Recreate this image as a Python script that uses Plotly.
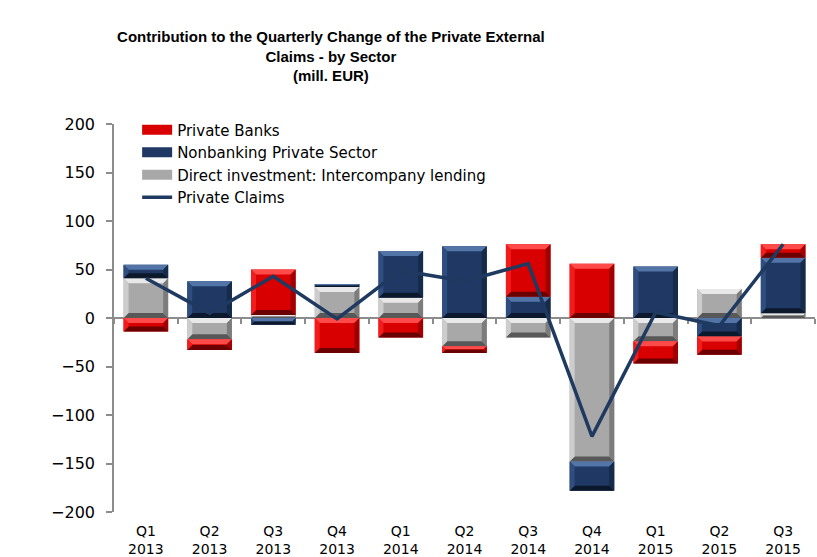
import plotly.graph_objects as go

# Quarter labels (category axis)
quarters = ["Q1<br>2013", "Q2<br>2013", "Q3<br>2013", "Q4<br>2013",
            "Q1<br>2014", "Q2<br>2014", "Q3<br>2014", "Q4<br>2014",
            "Q1<br>2015", "Q2<br>2015", "Q3<br>2015"]

# Contributions by sector, mill. EUR
private_banks = [-14, -11, 47, -36, -20, -7, 54, 56, -23, -19, 14]
nonbanking_private = [14, 38, -7, 3, 48, 74, 22, -30, 53, -19, 57]
direct_investment = [41, -22, 3, 32, 21, -29, -20, -148, -24, 30, 5]

# Total quarterly change of private external claims
private_claims = [41, 5, 43, -1, 49, 38, 56, -122, 6, -8, 76]

W, H = 817, 557
MARGIN = dict(l=114, r=2, t=124, b=45)
Y_RANGE = [-200, 200]
BAR_WIDTH = 0.7
BEVEL_PX = 5
AXIS_GREY = "#8C8C8C"
LINE_BLUE = "#1F3A60"

PALETTES = {
    "red": dict(face="#D80000", top="#FF4A4A", left="#F21C1C", right="#A00000", bottom="#6A0000"),
    "blue": dict(face="#1F3864", top="#5274A6", left="#2F4D7E", right="#162A4A", bottom="#0C182C"),
    "grey": dict(face="#A8A8A8", top="#E8E8E8", left="#CDCDCD", right="#7C7C7C", bottom="#585858"),
}

# stacking order, from the zero line outwards
series = [
    ("Direct investment: Intercompany lending", direct_investment, "grey", 3),
    ("Nonbanking Private Sector", nonbanking_private, "blue", 2),
    ("Private Banks", private_banks, "red", 1),
]

n = len(quarters)
xs = list(range(n))
plot_w = W - MARGIN["l"] - MARGIN["r"]
plot_h = H - MARGIN["t"] - MARGIN["b"]
px_per_x = plot_w / n
px_per_y = plot_h / (Y_RANGE[1] - Y_RANGE[0])

fig = go.Figure()

# flat bar faces, stacked relative to zero
for name, vals, pal, rank in series:
    fig.add_trace(go.Bar(
        x=xs, y=vals, name=name, width=BAR_WIDTH, legendgroup=name,
        marker=dict(color=PALETTES[pal]["face"], line=dict(width=0)),
        showlegend=False,
    ))
    # wide swatch for the legend entry
    fig.add_trace(go.Scatter(
        x=[None], y=[None], name=name, mode="lines", legendgroup=name,
        line=dict(color=PALETTES[pal]["face"], width=10), legendrank=rank,
    ))

# bevelled edges: trapezoids along each stacked segment
pos_base = [0.0] * n
neg_base = [0.0] * n
for name, vals, pal, rank in series:
    sides = {k: ([], []) for k in ("top", "bottom", "left", "right")}
    for i, v in enumerate(vals):
        if v >= 0:
            lo, hi = pos_base[i], pos_base[i] + v
            pos_base[i] = hi
        else:
            lo, hi = neg_base[i] + v, neg_base[i]
            neg_base[i] = lo
        h_px = (hi - lo) * px_per_y
        w_px = BAR_WIDTH * px_per_x
        d = min(BEVEL_PX, h_px / 2, w_px / 2)
        dx, dy = d / px_per_x, d / px_per_y
        x0, x1 = i - BAR_WIDTH / 2, i + BAR_WIDTH / 2
        polys = {
            "top": [(x0, hi), (x1, hi), (x1 - dx, hi - dy), (x0 + dx, hi - dy)],
            "bottom": [(x0, lo), (x1, lo), (x1 - dx, lo + dy), (x0 + dx, lo + dy)],
            "left": [(x0, lo), (x0, hi), (x0 + dx, hi - dy), (x0 + dx, lo + dy)],
            "right": [(x1, lo), (x1, hi), (x1 - dx, hi - dy), (x1 - dx, lo + dy)],
        }
        for side, pts in polys.items():
            px_, py_ = sides[side]
            for (a, b) in pts + [pts[0]]:
                px_.append(a)
                py_.append(b)
            px_.append(None)
            py_.append(None)
    for side, (px_, py_) in sides.items():
        fig.add_trace(go.Scatter(
            x=px_, y=py_, mode="lines", fill="toself",
            fillcolor=PALETTES[pal][side], line=dict(width=0),
            hoverinfo="skip", showlegend=False, legendgroup=name,
        ))

fig.add_trace(go.Scatter(
    x=xs, y=private_claims, name="Private Claims", mode="lines",
    line=dict(color=LINE_BLUE, width=3.5), legendrank=4,
))

fig.update_layout(
    width=W, height=H,
    margin=dict(MARGIN, autoexpand=False),
    paper_bgcolor="white", plot_bgcolor="white",
    barmode="relative",
    font=dict(family="DejaVu Sans", size=16, color="black"),
    title=dict(
        text="<b>Contribution to the Quarterly Change of the Private External<br>"
             "Claims - by Sector<br>(mill. EUR)</b>",
        font=dict(family="Liberation Sans Narrow, Liberation Sans", size=15, color="black"),
        x=0.405, xanchor="center", y=0.924, yanchor="top",
    ),
    legend=dict(
        x=0.033, y=1.027, xanchor="left", yanchor="top",
        bgcolor="rgba(0,0,0,0)", font=dict(size=15),
        itemwidth=30, tracegroupgap=0,
    ),
    showlegend=True,
)

fig.update_xaxes(
    range=[-0.5, n - 0.5],
    tickmode="array", tickvals=xs, ticktext=quarters,
    tickfont=dict(size=14),
    showline=True, linecolor=AXIS_GREY, linewidth=1.5,
    anchor="free", position=0.5, layer="below traces",
    ticks="outside", ticklen=0,
    minor=dict(tickmode="array", tickvals=[i - 0.5 for i in range(n + 1)],
               ticks="outside", ticklen=5, tickcolor=AXIS_GREY, tickwidth=1.5),
    ticklabelstandoff=200, automargin=False,
    showgrid=False, zeroline=False,
)

fig.update_yaxes(
    range=Y_RANGE, tickmode="linear", tick0=-200, dtick=50,
    showline=True, linecolor=AXIS_GREY, linewidth=1.5,
    ticks="outside", ticklen=6, tickcolor=AXIS_GREY, tickwidth=1.5,
    ticklabelstandoff=8, automargin=False,
    showgrid=False, zeroline=False,
)

fig.write_html("out.html")
